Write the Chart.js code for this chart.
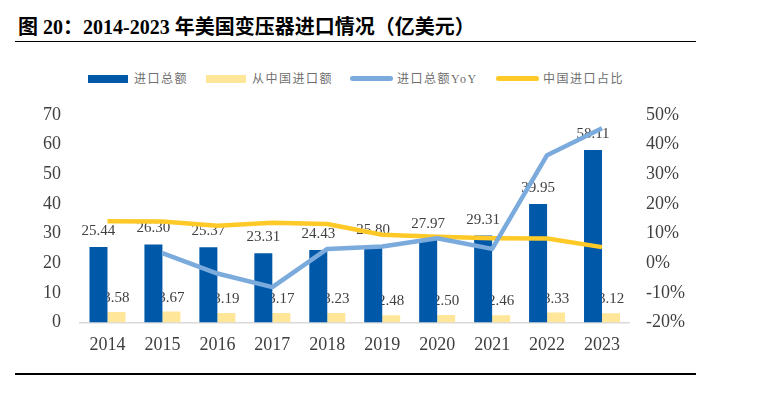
<!DOCTYPE html>
<html>
<head>
<meta charset="utf-8">
<script src="https://cdn.jsdelivr.net/npm/chart.js@4"></script>
<style>
  body { margin: 0; background: #fff; width: 759px; height: 394px; position: relative; overflow: hidden; }
  .title {
    position: absolute; left: 15px; top: 15px; width: 681px; height: 27px;
    border-bottom: 1.5px solid #000;
    font: bold 20px "Liberation Serif", "Noto Sans CJK SC", serif;
    color: #000; padding-left: 3px; box-sizing: border-box; line-height: 24px;
  }
  .bottom-line { position: absolute; left: 15px; top: 373px; width: 681px; height: 1.5px; background: #000; }
  .lg { position: absolute; }
  .lg-text {
    position: absolute; top: 71px; font: 12px "Liberation Serif", "Noto Sans CJK SC", serif;
    color: #6f6f6f; letter-spacing: 1.5px; white-space: nowrap; line-height: 16px;
  }
  #wrap { position: absolute; left: 0; top: 85px; width: 700px; height: 280px; }
</style>
</head>
<body>
<div class="title">图 20：2014-2023 年美国变压器进口情况（亿美元）</div>

<div class="lg" style="left:88px;top:75px;width:40px;height:8px;background:#0058A9"></div>
<div class="lg-text" style="left:134px">进口总额</div>
<div class="lg" style="left:206px;top:75px;width:40px;height:8px;background:#FFE699"></div>
<div class="lg-text" style="left:252px">从中国进口额</div>
<div class="lg" style="left:350px;top:76px;width:43px;height:5px;border-radius:3px;background:#7BAADC"></div>
<div class="lg-text" style="left:397px">进口总额YoY</div>
<div class="lg" style="left:496px;top:76px;width:43px;height:5px;border-radius:3px;background:#FFC928"></div>
<div class="lg-text" style="left:543px">中国进口占比</div>

<div id="wrap"><canvas id="c"></canvas></div>
<div class="bottom-line"></div>

<script>
const years = ['2014', '2015', '2016', '2017', '2018', '2019', '2020', '2021', '2022', '2023'];
const totalImports = [25.44, 26.30, 25.37, 23.31, 24.43, 25.80, 27.97, 29.31, 39.95, 58.11];
const chinaImports = [3.58, 3.67, 3.19, 3.17, 3.23, 2.48, 2.50, 2.46, 3.33, 3.12];
const totalYoY = [null, 3.4, -3.5, -8.1, 4.8, 5.6, 8.4, 4.8, 36.4, 45.5];
const chinaShare = [14.1, 14.0, 12.6, 13.6, 13.2, 9.6, 8.9, 8.4, 8.3, 5.4];
const leftTicks = [0, 10, 20, 30, 40, 50, 60, 70];
const rightTicks = [-20, -10, 0, 10, 20, 30, 40, 50];

// value labels sit behind the bars, like in the source picture
const barLabels = {
    id: 'barLabels',
    beforeDatasetsDraw(chart) {
        const ctx = chart.ctx;
        ctx.save();
        ctx.font = '15px "Liberation Serif", serif';
        ctx.fillStyle = '#404040';
        ctx.textAlign = 'center';
        ctx.textBaseline = 'alphabetic';
        [0, 1].forEach(i => {
            const meta = chart.getDatasetMeta(i);
            const vals = chart.data.datasets[i].data;
            meta.data.forEach((bar, j) => {
                const gap = i === 0 ? 12 : 10;
                ctx.fillText(vals[j].toFixed(2), bar.x, bar.y - gap);
            });
        });
        ctx.restore();
    }
};

new Chart(document.getElementById('c'), {
    data: {
        labels: years,
        datasets: [
            {
                type: 'bar', label: '进口总额', data: totalImports, yAxisID: 'y',
                backgroundColor: '#0058A9', order: 3,
                barPercentage: 1, categoryPercentage: 0.655
            },
            {
                type: 'bar', label: '从中国进口额', data: chinaImports, yAxisID: 'y',
                backgroundColor: '#FFE699', order: 4,
                barPercentage: 1, categoryPercentage: 0.655
            },
            {
                type: 'line', label: '进口总额YoY', data: totalYoY, yAxisID: 'y1',
                borderColor: '#7BAADC', borderWidth: 4.5, pointRadius: 0,
                tension: 0, order: 1, borderJoinStyle: 'round'
            },
            {
                type: 'line', label: '中国进口占比', data: chinaShare, yAxisID: 'y1',
                borderColor: '#FFC928', borderWidth: 4.5, pointRadius: 0,
                tension: 0, order: 2, borderJoinStyle: 'round'
            }
        ]
    },
    options: {
        responsive: true,
        maintainAspectRatio: false,
        animation: false,
        layout: { padding: { top: 8.3, left: 0, right: 0, bottom: 0 } },
        plugins: {
            legend: { display: false },
            tooltip: { enabled: false }
        },
        scales: {
            x: {
                grid: { display: true, drawOnChartArea: false, drawTicks: false },
                border: { display: true, color: '#D9D9D9', width: 1.5 },
                ticks: { font: { family: '"Liberation Serif", serif', size: 18 }, color: '#404040', padding: 12 },
                afterFit(scale) { scale.height = 42.5; }
            },
            y: {
                position: 'left',
                min: 0, max: 70,
                grid: { display: false, drawTicks: false },
                border: { display: false },
                afterBuildTicks(scale) { scale.ticks = leftTicks.map(v => ({ value: v })); },
                ticks: { font: { family: '"Liberation Serif", serif', size: 18 }, color: '#404040', padding: 19 },
                afterFit(scale) { scale.width = 80; }
            },
            y1: {
                position: 'right',
                min: -20, max: 50,
                grid: { display: false, drawTicks: false },
                border: { display: false },
                afterBuildTicks(scale) { scale.ticks = rightTicks.map(v => ({ value: v })); },
                ticks: {
                    font: { family: '"Liberation Serif", serif', size: 18 }, color: '#404040', padding: 16.5,
                    callback: v => v + '%'
                },
                afterFit(scale) { scale.width = 70.5; }
            }
        }
    },
    plugins: [barLabels]
});
</script>
</body>
</html>
